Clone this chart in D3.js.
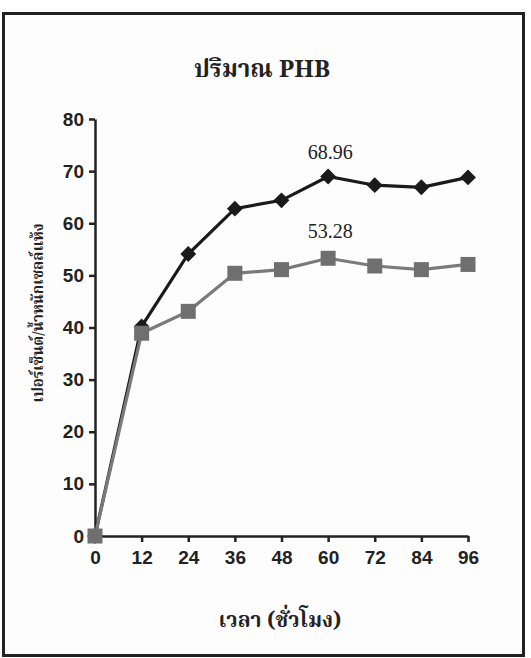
<!DOCTYPE html>
<html>
<head>
<meta charset="utf-8">
<script src="https://cdn.jsdelivr.net/npm/d3@7"></script>
<style>
  html, body { margin: 0; padding: 0; background: #fff; }
  svg { display: block; }
</style>
</head>
<body>
<svg id="chart" width="531" height="658"></svg>
<script>
// Sampling times (hours)
const hours = [0, 12, 24, 36, 48, 60, 72, 84, 96];
// PHB content, % of dry cell weight
const seriesA = [0, 40.2, 54.1, 62.8, 64.4, 68.96, 67.3, 66.9, 68.8];
const seriesB = [0, 38.9, 43.1, 50.4, 51.1, 53.28, 51.8, 51.1, 52.1];
const yTicks = [0, 10, 20, 30, 40, 50, 60, 70, 80];
const titleText = "ปริมาณ PHB";
const xTitle = "เวลา (ชั่วโมง)";
const yTitle = "เปอร์เซ็นต์/น้ำหนักเซลล์แห้ง";
const labelA = "68.96";
const labelB = "53.28";

const svg = d3.select("#chart");
const thaiFont = "'Noto Serif Thai', 'Noto Sans Thai', 'Liberation Serif', serif";

// outer frame
svg.append("rect")
  .attr("x", 3.5).attr("y", 13.5)
  .attr("width", 520).attr("height", 642)
  .attr("fill", "#fdfdfd")
  .attr("stroke", "#222").attr("stroke-width", 3);

const x = d3.scaleLinear().domain([0, 96]).range([95, 468]);
const y = d3.scaleLinear().domain([0, 80]).range([536, 119]);

// y axis
const gy = svg.append("g").attr("transform", "translate(95,0)")
  .call(d3.axisLeft(y).tickValues(yTicks).tickSize(6).tickSizeOuter(0).tickPadding(5));
// x axis
const gx = svg.append("g").attr("transform", "translate(0,536)")
  .call(d3.axisBottom(x).tickValues(hours).tickSize(6).tickSizeOuter(0).tickPadding(9));

[gx, gy].forEach(g => {
  g.select(".domain").attr("stroke", "#222").attr("stroke-width", 2.5);
  g.selectAll(".tick line").attr("stroke", "#222").attr("stroke-width", 2.5);
  g.selectAll(".tick text")
    .attr("fill", "#222")
    .style("font-family", "'Liberation Sans', Arial, sans-serif")
    .style("font-weight", "bold")
    .style("font-size", "19px");
});
gx.selectAll(".tick").filter(d => d === 0).select("line").remove();

const line = d3.line().x((d, i) => x(hours[i])).y(d => y(d));

// upper series (black diamonds)
svg.append("path").datum(seriesA)
  .attr("d", line).attr("fill", "none")
  .attr("stroke", "#1a1a1a").attr("stroke-width", 3.2);
svg.selectAll("path.dm").data(seriesA).join("path")
  .attr("class", "dm")
  .attr("d", d3.symbol().type(d3.symbolDiamond2).size(160))
  .attr("transform", (d, i) => `translate(${x(hours[i])},${y(d)})`)
  .attr("fill", "#1a1a1a");

// lower series (grey squares), drawn on top
svg.append("path").datum(seriesB)
  .attr("d", line).attr("fill", "none")
  .attr("stroke", "#7a7a7a").attr("stroke-width", 3.2);
svg.selectAll("rect.sq").data(seriesB).join("rect")
  .attr("class", "sq")
  .attr("x", (d, i) => x(hours[i]) - 7.5)
  .attr("y", d => y(d) - 7.5)
  .attr("width", 15).attr("height", 15)
  .attr("fill", "#6f6f6f");

// value labels
svg.append("text").attr("x", x(60) + 2).attr("y", y(seriesA[5]) - 18)
  .attr("text-anchor", "middle")
  .style("font-family", "'Liberation Serif', 'Times New Roman', serif")
  .style("font-size", "20px").attr("fill", "#222").text(labelA);
svg.append("text").attr("x", x(60) + 2).attr("y", y(seriesB[5]) - 20)
  .attr("text-anchor", "middle")
  .style("font-family", "'Liberation Serif', 'Times New Roman', serif")
  .style("font-size", "20px").attr("fill", "#222").text(labelB);

// titles
svg.append("text").attr("x", 262).attr("y", 77)
  .attr("text-anchor", "middle")
  .style("font-family", thaiFont).style("font-weight", "bold")
  .style("font-size", "24px").attr("fill", "#222").text(titleText);
svg.append("text").attr("x", 280).attr("y", 627)
  .attr("text-anchor", "middle")
  .style("font-family", thaiFont).style("font-weight", "bold")
  .style("font-size", "21px").attr("fill", "#222").text(xTitle);
svg.append("text")
  .attr("transform", "translate(43,313) rotate(-90)")
  .attr("text-anchor", "middle")
  .style("font-family", thaiFont).style("font-weight", "bold")
  .style("font-size", "15px").attr("fill", "#222").text(yTitle);
</script>
</body>
</html>
